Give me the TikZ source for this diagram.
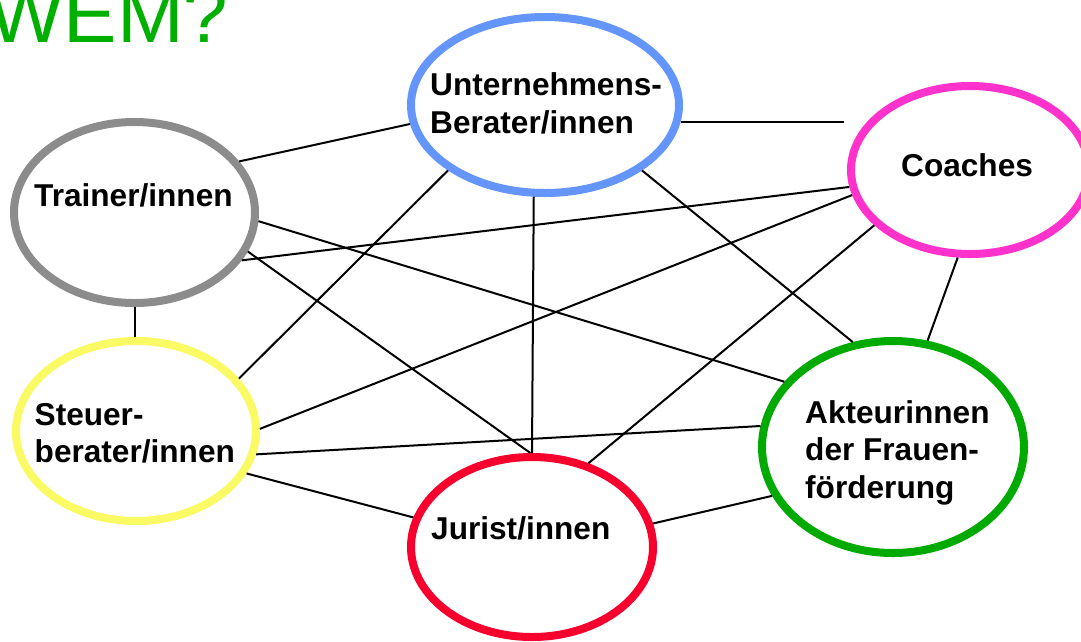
\documentclass[tikz,border=0pt]{standalone}
\usepackage{fontspec}
\setmainfont{Liberation Sans}
\usetikzlibrary{shapes.geometric}
\definecolor{cblue}{HTML}{6495FA}
\definecolor{cmag}{HTML}{FF33CC}
\definecolor{cgray}{HTML}{8C8C8C}
\definecolor{cyel}{HTML}{FAFA64}
\definecolor{cred}{HTML}{F7002E}
\definecolor{cgreen}{HTML}{00AA00}
\definecolor{tgreen}{HTML}{00B000}
\begin{document}
\begin{tikzpicture}[x=1pt,y=-1pt,
  oval/.style={ellipse, draw, line width=8pt, inner sep=0pt},
  lbl/.style={anchor=base west, inner sep=0pt, align=left, font=\fontsize{31.6}{37.5}\selectfont\bfseries},
  conn/.style={draw=black, line width=2pt}]
\useasboundingbox (0,0) rectangle (1081,641);
\node[anchor=base west, inner sep=0pt, text=tgreen, font=\fontsize{80}{80}\selectfont] (title) at (-12,42) {WEM?};

\node[oval, draw=cblue, minimum width=268pt, minimum height=176pt] (U) at (545,105) {};
\node[oval, draw=cmag, minimum width=238pt, minimum height=168pt] (C) at (970,170) {};
\node[oval, draw=cgray, minimum width=241pt, minimum height=181pt] (T) at (134.5,212.5) {};
\node[oval, draw=cyel, minimum width=240pt, minimum height=180pt] (S) at (136,431) {};
\node[oval, draw=cred, minimum width=242pt, minimum height=180pt] (J) at (532,547) {};
\node[oval, draw=cgreen, minimum width=262pt, minimum height=212pt] (A) at (893,447) {};

% multi-line labels: base anchor sits on the last line
\node[lbl] (Ut) at (430,133) {Unternehmens-\\Berater/innen};
\node[lbl] (Ct) at (901,176) {Coaches};
\node[lbl] (Tt) at (34,206) {Trainer/innen};
\node[lbl] (St) at (34.5,462.5) {Steuer-\\berater/innen};
\node[lbl] (Jt) at (431,539) {Jurist/innen};
\node[lbl] (At) at (805,498) {Akteurinnen\\der Frauen-\\förderung};

\draw[conn] (T.26) -- (U.188.4);
\draw[conn, shorten >=3pt] (U.-7) -- (U.-7 -| C.west);
\draw[conn] (T.-24) -- (C.188.1);
\draw[conn] (T.-4.9) -- (A.149);
\draw[conn] (T.-19.6) -- (J.91);
\draw[conn] (T.south) -- (T.south |- S.north);
\draw[conn] (U.214.6) -- (S.27);
\draw[conn] (U.-97.6) -- (J.90);
\draw[conn] (U.-34.6) -- (A.111.4);
\draw[conn] (C.192.2) -- (S.1.4);
\draw[conn] (C.210.8) -- (J.56.2);
\draw[conn] (C.-98.6) -- (A.72.9);
\draw[conn] (S.-11.6) -- (A.171.7);
\draw[conn] (S.-21.6) -- (J.166.2);
\draw[conn] (J.11.6) -- (A.-158.7);
\end{tikzpicture}
\end{document}
